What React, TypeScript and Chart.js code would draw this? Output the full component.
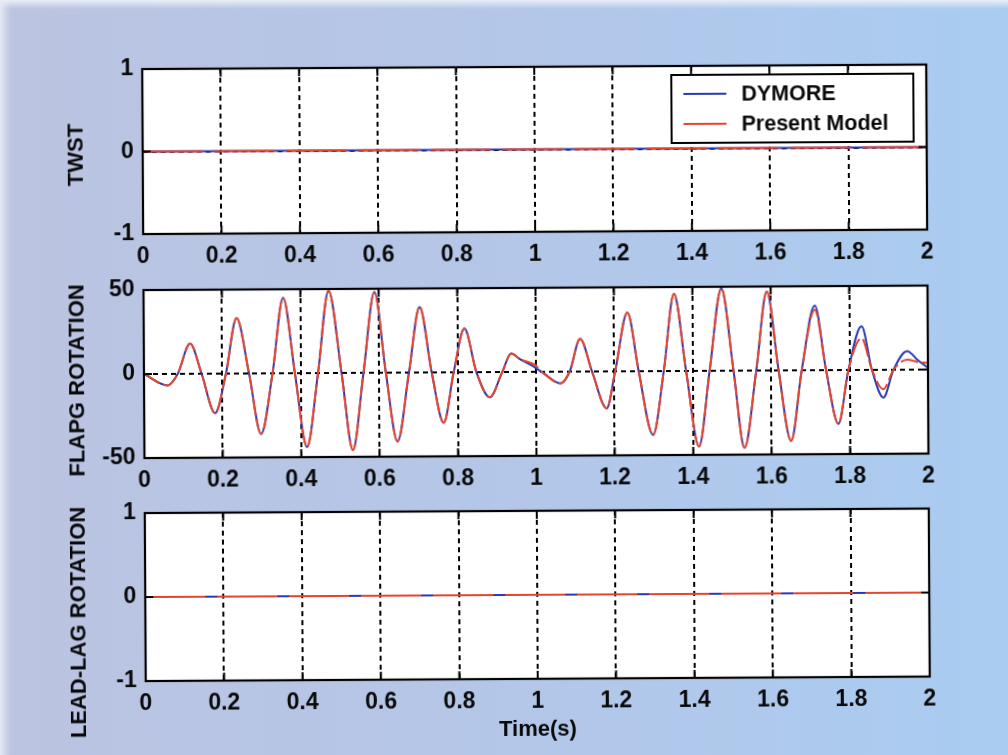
import React, { useEffect, useRef } from "react";
import { Chart, registerables } from "chart.js";

Chart.register(...registerables);

// ---------- data ----------
const xTickLabels = ["0", "0.2", "0.4", "0.6", "0.8", "1", "1.2", "1.4", "1.6", "1.8", "2"];
const twstTickLabels = ["-1", "0", "1"];
const flapTickLabels = ["-50", "0", "50"];
const leadTickLabels = ["-1", "0", "1"];
const seriesNames = ["DYMORE", "Present Model"];

const flatTime = [0, 0.5, 1, 1.5, 2];
const twstDymore = [0, 0, 0, 0, 0];
const twstPresent = [0, 0, 0, 0, 0];
const leadDymore = [0, 0, 0, 0, 0];
const leadPresent = [0, 0, 0, 0, 0];

const flapTime = [
  0, 0.06, 0.086, 0.118, 0.147, 0.181, 0.209, 0.237, 0.268, 0.298,
  0.328, 0.356, 0.385, 0.415, 0.444, 0.472, 0.504, 0.532, 0.56, 0.589,
  0.617, 0.646, 0.676, 0.704, 0.734, 0.764, 0.79, 0.818, 0.848, 0.882,
  0.914, 0.937, 0.96, 0.995, 1.02, 1.062, 1.086, 1.113, 1.143, 1.18,
  1.202, 1.234, 1.262, 1.298, 1.326, 1.353, 1.383, 1.415, 1.443, 1.474,
  1.504, 1.531, 1.562, 1.59, 1.619, 1.65, 1.678, 1.712, 1.74, 1.771,
  1.797, 1.831, 1.857, 1.886, 1.912, 1.947, 1.975, 2.0,
];
const flapDymore = [
  0, -6.8, 0, 18, 0, -23.5, 0, 33, 0, -36,
  0, 45, 0, -44, 0, 49, 0, -46, 0, 48,
  0, -41, 0, 39, 0, -30, 0, 26, 0, -15,
  0, 11, 7.5, 3, -1, -7, 0, 19.5, 0, -22,
  0, 35, 0, -38, 0, 46, 0, -45, 0, 49,
  0, -46, 0, 47, 0, -42, 0, 38.5, 0, -32,
  0, 26, 0, -16.5, 0, 11, 5.5, 1,
];
const flapPresent = [
  0, -6.8, 0, 18, 0, -23.5, 0, 33, 0, -36,
  0, 45, 0, -44, 0, 49, 0, -46, 0, 48,
  0, -41, 0, 39, 0, -30, 0, 26, 0, -15,
  0, 11, 7.5, 4.5, -1, -7, 0, 19.5, 0, -22,
  0, 35, 0, -38, 0, 46, 0, -45, 0, 49,
  0, -46, 0, 47, 0, -42, 0, 36, 0, -32,
  0, 19, 0, -11.5, 0, 6, 4.5, 4,
];

// ---------- styles ----------
const BLUE = "#2a38b4";
const RED = "#e4452c";
const FONT = "'Liberation Sans', Arial, Helvetica, sans-serif";
const CANVAS_W = 960;
const AREA_LEFT = 144;
const AREA_RIGHT = 928;
const TXT = "#0a0a0a";
const WEIGHT = "bold";
const PAGE_BG = "linear-gradient(90deg, #bbc4e1 0%, #b5c6e7 45%, #a9ccf1 100%)";

Chart.defaults.font.family = FONT;
Chart.defaults.color = TXT;

const areaBgPlugin = {
  id: "areaBg",
  beforeDraw(chart: any) {
    const { ctx, chartArea } = chart;
    ctx.save();
    ctx.fillStyle = "#ffffff";
    ctx.fillRect(chartArea.left, chartArea.top, chartArea.right - chartArea.left, chartArea.bottom - chartArea.top);
    ctx.restore();
  },
};

const framePlugin = {
  id: "frame",
  afterDatasetsDraw(chart: any) {
    const { ctx, chartArea, scales } = chart;
    const { left, right, top, bottom } = chartArea;
    ctx.save();
    ctx.setLineDash([]);
    ctx.strokeStyle = "#000";
    ctx.lineWidth = 2;
    const tl = 8;
    ctx.beginPath();
    scales.x.ticks.forEach((t: any) => {
      const px = scales.x.getPixelForValue(t.value);
      ctx.moveTo(px, bottom);
      ctx.lineTo(px, bottom - tl);
      ctx.moveTo(px, top);
      ctx.lineTo(px, top + tl);
    });
    scales.y.ticks.forEach((t: any) => {
      const py = scales.y.getPixelForValue(t.value);
      ctx.moveTo(left, py);
      ctx.lineTo(left + tl, py);
      ctx.moveTo(right, py);
      ctx.lineTo(right - tl, py);
    });
    ctx.stroke();
    ctx.lineWidth = 2.2;
    ctx.strokeRect(left, top, right - left, bottom - top);
    ctx.restore();
  },
};

const yTitlePlugin = {
  id: "yTitle",
  afterDraw(chart: any, _args: any, opts: any) {
    if (!opts || !opts.text) return;
    const { ctx, chartArea } = chart;
    const cy = (chartArea.top + chartArea.bottom) / 2 + (opts.offset || 0);
    ctx.save();
    ctx.translate(opts.x, cy);
    ctx.rotate(-Math.PI / 2);
    ctx.font = `${WEIGHT} 22px ${FONT}`;
    ctx.fillStyle = TXT;
    ctx.textAlign = "center";
    ctx.textBaseline = "middle";
    ctx.fillText(opts.text, 0, 0);
    ctx.restore();
  },
};

const legendBoxPlugin = {
  id: "legendBox",
  afterDraw(chart: any, _args: any, opts: any) {
    if (!opts || !opts.show) return;
    const { ctx, chartArea } = chart;
    const w = 242;
    const h = 68;
    const x = chartArea.right - 13 - w;
    const y = chartArea.top + 9;
    ctx.save();
    ctx.fillStyle = "#fff";
    ctx.fillRect(x, y, w, h);
    ctx.strokeStyle = "#000";
    ctx.lineWidth = 2;
    ctx.strokeRect(x, y, w, h);
    ctx.font = `${WEIGHT} 21.5px ${FONT}`;
    ctx.textBaseline = "middle";
    ctx.textAlign = "left";
    chart.data.datasets.forEach((ds: any, i: number) => {
      const ly = y + 19 + i * 30;
      ctx.strokeStyle = ds.borderColor;
      ctx.lineWidth = 2;
      ctx.beginPath();
      ctx.moveTo(x + 12, ly);
      ctx.lineTo(x + 55, ly);
      ctx.stroke();
      ctx.fillStyle = TXT;
      ctx.fillText(ds.label, x + 70, ly + 1);
    });
    ctx.restore();
  },
};

type PanelSpec = {
  time: number[];
  blue: number[];
  red: number[];
  yMin: number;
  yMax: number;
  yStep: number;
  yTicks: string[];
  yTitle: string;
  yTitleOffset: number;
  padTop: number;
  xHeight: number;
  xTitle?: string;
  legend?: boolean;
  redDash: number[];
};

function makeConfig(p: PanelSpec): any {
  const toPts = (vals: number[]) => p.time.map((t, i) => ({ x: t, y: vals[i] }));
  return {
    type: "line",
    data: {
      datasets: [
        {
          label: seriesNames[0],
          data: toPts(p.blue),
          borderColor: BLUE,
          borderWidth: 2,
          pointRadius: 0,
          fill: false,
          cubicInterpolationMode: "monotone",
          order: 2,
        },
        {
          label: seriesNames[1],
          data: toPts(p.red),
          borderColor: RED,
          borderWidth: 2,
          pointRadius: 0,
          fill: false,
          cubicInterpolationMode: "monotone",
          borderDash: p.redDash,
          order: 1,
        },
      ],
    },
    options: {
      animation: false,
      responsive: false,
      maintainAspectRatio: false,
      events: [],
      layout: { padding: { left: 0, right: CANVAS_W - AREA_RIGHT, top: p.padTop, bottom: 0 } },
      plugins: {
        legend: { display: false },
        tooltip: { enabled: false },
        legendBox: { show: !!p.legend },
        yTitle: { text: p.yTitle, x: 78, offset: p.yTitleOffset },
      },
      scales: {
        x: {
          type: "linear",
          min: 0,
          max: 2,
          afterFit: (s: any) => {
            s.height = p.xHeight;
          },
          ticks: {
            stepSize: 0.2,
            autoSkip: false,
            maxRotation: 0,
            padding: 9,
            color: TXT,
            font: { size: 23, weight: WEIGHT },
            callback: (v: number) => xTickLabels[Math.round(v / 0.2)] ?? "",
          },
          grid: { color: "#000", lineWidth: 2, drawTicks: false },
          border: { display: false, dash: [5, 4] },
          title: {
            display: !!p.xTitle,
            text: p.xTitle || "",
            color: TXT,
            font: { size: 22, weight: WEIGHT },
            padding: { top: 0, bottom: 12 },
          },
        },
        y: {
          type: "linear",
          min: p.yMin,
          max: p.yMax,
          afterFit: (s: any) => {
            s.width = AREA_LEFT;
          },
          ticks: {
            stepSize: p.yStep,
            padding: 9,
            color: TXT,
            font: { size: 23, weight: WEIGHT },
            callback: (v: number) => p.yTicks[Math.round((v - p.yMin) / p.yStep)] ?? "",
          },
          grid: { color: "#000", lineWidth: 2, drawTicks: false },
          border: { display: false, dash: [5, 4] },
          title: { display: false },
        },
      },
    },
    plugins: [areaBgPlugin, framePlugin, legendBoxPlugin, yTitlePlugin],
  };
}

function Panel({ spec, top, height }: { spec: PanelSpec; top: number; height: number }) {
  const ref = useRef<HTMLCanvasElement | null>(null);
  useEffect(() => {
    if (!ref.current) return;
    const chart = new Chart(ref.current, makeConfig(spec));
    return () => chart.destroy();
  }, []);
  return (
    <canvas
      ref={ref}
      width={CANVAS_W}
      height={height}
      style={{ position: "absolute", left: 0, top, width: CANVAS_W, height }}
    />
  );
}

const topSpec: PanelSpec = {
  time: flatTime,
  blue: twstDymore,
  red: twstPresent,
  yMin: -1,
  yMax: 1,
  yStep: 1,
  yTicks: twstTickLabels,
  yTitle: "TWST",
  yTitleOffset: 3,
  padTop: 67,
  xHeight: 40,
  legend: true,
  redDash: [60, 12],
};

const midSpec: PanelSpec = {
  time: flapTime,
  blue: flapDymore,
  red: flapPresent,
  yMin: -50,
  yMax: 50,
  yStep: 50,
  yTicks: flapTickLabels,
  yTitle: "FLAPG ROTATION",
  yTitleOffset: 6,
  padTop: 26,
  xHeight: 40,
  redDash: [18, 4],
};

const botSpec: PanelSpec = {
  time: flatTime,
  blue: leadDymore,
  red: leadPresent,
  yMin: -1,
  yMax: 1,
  yStep: 1,
  yTicks: leadTickLabels,
  yTitle: "LEAD-LAG ROTATION",
  yTitleOffset: 25,
  padTop: 71,
  xHeight: 76,
  xTitle: "Time(s)",
  redDash: [60, 12],
};

export default function App() {
  useEffect(() => {
    document.documentElement.style.background = "#aecaee";
    document.body.style.background = "#aecaee";
    document.body.style.margin = "0";
    document.body.style.overflow = "hidden";
  }, []);
  return (
    <div
      style={{
        position: "fixed",
        left: 0,
        top: 0,
        width: 1008,
        height: 755,
        overflow: "hidden",
        background: PAGE_BG,
      }}
    >
      <div
        style={{
          position: "absolute",
          left: 0,
          top: 0,
          width: "100%",
          height: 9,
          background: "linear-gradient(180deg, rgba(238,242,249,0.9), rgba(238,242,249,0))",
        }}
      />
      <div
        style={{
          position: "absolute",
          left: 0,
          top: 0,
          width: 11,
          height: "100%",
          background: "linear-gradient(90deg, rgba(234,238,247,0.85), rgba(234,238,247,0))",
        }}
      />
      <div
        style={{
          position: "absolute",
          left: 0,
          top: 0,
          width: 1008,
          height: 755,
          transform: "rotate(-0.33deg)",
          transformOrigin: "504px 377px",
        }}
      >
        <Panel spec={topSpec} top={0} height={272} />
        <Panel spec={midSpec} top={262} height={234} />
        <Panel spec={botSpec} top={440} height={315} />
      </div>
    </div>
  );
}
